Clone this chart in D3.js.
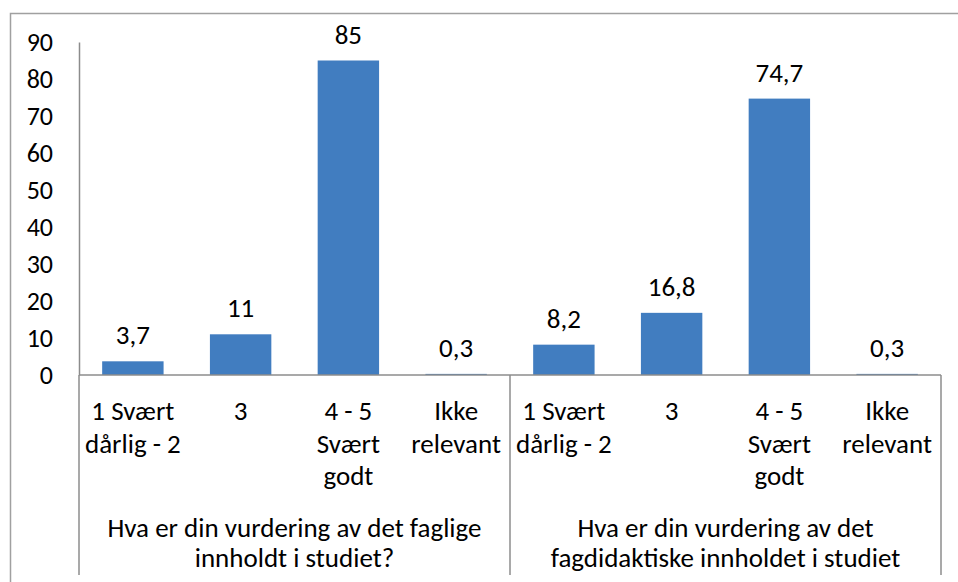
<!DOCTYPE html>
<html>
<head>
<meta charset="utf-8">
<script src="https://cdn.jsdelivr.net/npm/d3@7"></script>
<style>
  html, body { margin: 0; padding: 0; background: #fff; }
  svg { display: block; }
  text { font-family: Calibri, Carlito, Lato, "Open Sans", sans-serif; fill: #000; }
</style>
</head>
<body>
<svg id="chart" width="958" height="582"></svg>
<script>
// ---- data ----
const groupLabels = [
  ["Hva er din vurdering av det faglige", "innholdt i studiet?"],
  ["Hva er din vurdering av det", "fagdidaktiske innholdet i studiet"]
];
const categoryLabels = [
  ["1 Svært", "dårlig - 2"],
  ["3"],
  ["4 - 5", "Svært", "godt"],
  ["Ikke", "relevant"]
];
const valuesFaglige = [3.7, 11, 85, 0.3];
const valuesFagdidaktiske = [8.2, 16.8, 74.7, 0.3];
const valueLabelsFaglige = ["3,7", "11", "85", "0,3"];
const valueLabelsFagdidaktiske = ["8,2", "16,8", "74,7", "0,3"];
const yTicks = [0, 10, 20, 30, 40, 50, 60, 70, 80, 90];

// ---- build rows ----
const seriesValues = [valuesFaglige, valuesFagdidaktiske];
const seriesLabels = [valueLabelsFaglige, valueLabelsFagdidaktiske];
const rows = [];
groupLabels.forEach((g, gi) => {
  categoryLabels.forEach((c, ci) => {
    rows.push({ key: gi + "-" + ci, group: gi, cat: c, value: seriesValues[gi][ci], label: seriesLabels[gi][ci] });
  });
});

const svg = d3.select("#chart");
const FS = 27;
const axisColor = "#8c8c8c";
const barColor = "#417DC0";

// outer chart border
svg.append("path")
  .attr("d", "M10.5,590 L10.5,13.5 L970,13.5")
  .attr("fill", "none").attr("stroke", "#a0a0a0").attr("stroke-width", 1.5);

const x0 = 79, x1 = 941, yBase = 375, yTop = 42;
const x = d3.scaleBand().domain(rows.map(r => r.key)).range([x0, x1])
  .paddingInner(0.43).paddingOuter(0.215);
const y = d3.scaleLinear().domain([0, 90]).range([yBase, yTop]);

// y axis
const yAxis = svg.append("g").attr("transform", `translate(${x0},0)`)
  .call(d3.axisLeft(y).tickValues(yTicks).tickSize(0).tickSizeOuter(0).tickPadding(26).tickFormat(d3.format("d")));
yAxis.select(".domain").attr("stroke", axisColor).attr("stroke-width", 1.5);
yAxis.selectAll("text").attr("font-size", FS - 1).attr("fill", "#000")
  .style("font-family", "Calibri, Carlito, Lato, 'Open Sans', sans-serif");

// bars
svg.append("g").selectAll("rect").data(rows).join("rect")
  .attr("x", d => x(d.key))
  .attr("width", x.bandwidth())
  .attr("y", d => y(d.value))
  .attr("height", d => yBase - y(d.value))
  .attr("fill", barColor);

// value labels
svg.append("g").selectAll("text").data(rows).join("text")
  .attr("x", d => x(d.key) + x.bandwidth() / 2)
  .attr("y", d => y(d.value) - 17)
  .attr("text-anchor", "middle")
  .attr("font-size", FS)
  .text(d => d.label);

// x axis line
svg.append("line")
  .attr("x1", x0).attr("x2", x1).attr("y1", yBase).attr("y2", yBase)
  .attr("stroke", axisColor).attr("stroke-width", 1.5);

// group dividers
const groupEdges = [x0, (x0 + x1) / 2, x1];
svg.append("g").selectAll("line").data(groupEdges).join("line")
  .attr("x1", d => d).attr("x2", d => d)
  .attr("y1", yBase).attr("y2", 575)
  .attr("stroke", axisColor).attr("stroke-width", 1.5);

// category labels
const catLineY = [410, 443, 475];
const catG = svg.append("g").selectAll("text").data(rows).join("text")
  .attr("text-anchor", "middle")
  .attr("font-size", FS)
  .attr("dominant-baseline", "central");
catG.each(function(d) {
  const t = d3.select(this);
  d.cat.forEach((line, i) => {
    t.append("tspan").attr("x", x(d.key) + x.bandwidth() / 2).attr("y", catLineY[i]).text(line);
  });
});

// group labels
const grpLineY = [527, 557];
const grpG = svg.append("g").selectAll("text").data(groupLabels).join("text")
  .attr("text-anchor", "middle")
  .attr("font-size", FS)
  .attr("dominant-baseline", "central");
grpG.each(function(lines, gi) {
  const t = d3.select(this);
  const cx = (groupEdges[gi] + groupEdges[gi + 1]) / 2;
  lines.forEach((line, i) => {
    t.append("tspan").attr("x", cx).attr("y", grpLineY[i]).text(line);
  });
});
</script>
</body>
</html>
